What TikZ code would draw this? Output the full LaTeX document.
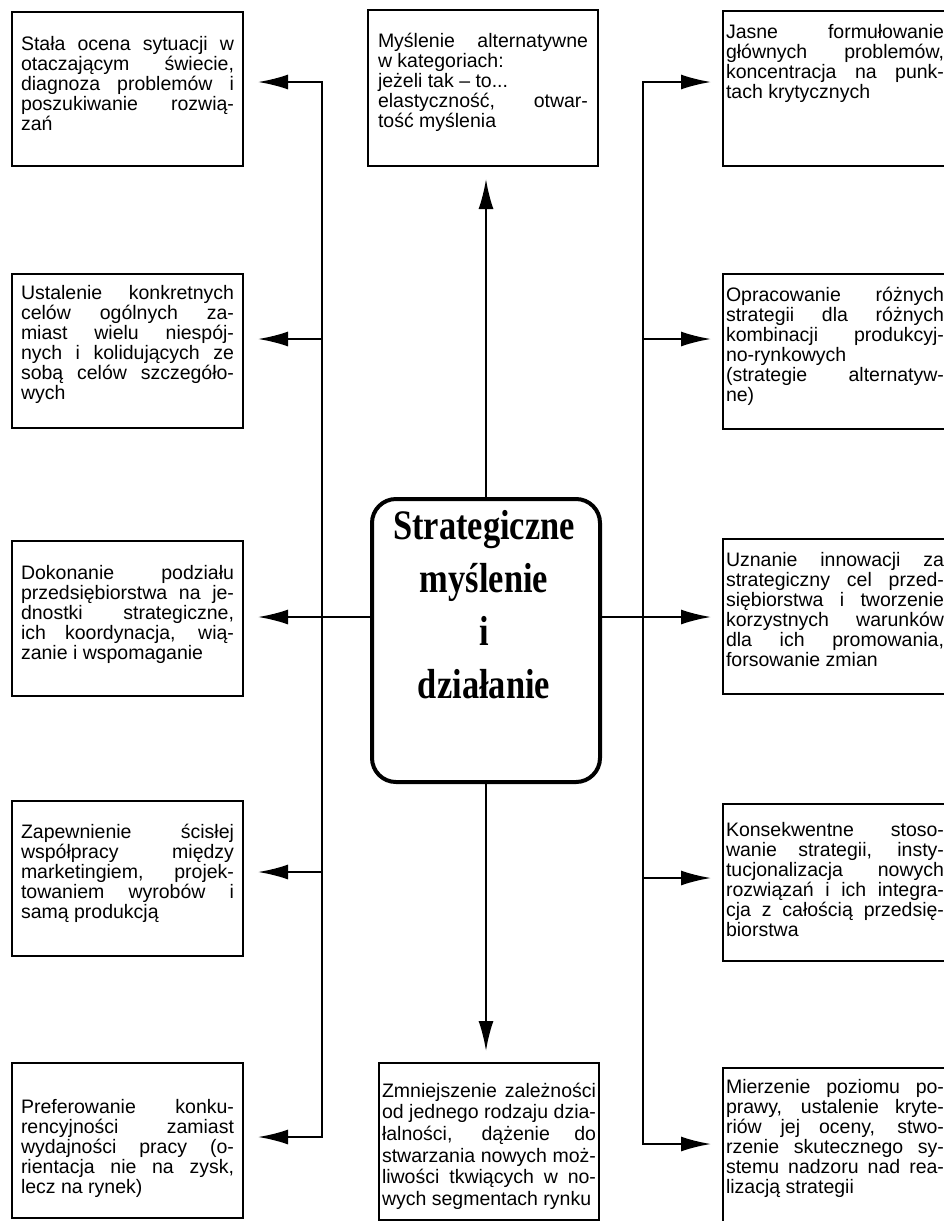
\documentclass[tikz,border=0pt]{standalone}
\usepackage{fontspec}
\setmainfont{Liberation Sans}
\newfontfamily\titlefont[FakeStretch=0.82]{Liberation Serif}
\usetikzlibrary{arrows.meta}

% body text of a box: #1 box height, #2 text width, #3 space above text, #4 text
\newcommand\boxbody[4]{%
  \parbox[c][#1][t]{#2}{%
    \fontsize{19.5bp}{20bp}\selectfont
    \lineskiplimit=-\maxdimen \lineskip=0pt
    \pretolerance=10000 \tolerance=10000 \hbadness=10000
    \hyphenpenalty=10000 \parindent=0pt
    \vspace*{#3}#4}}

\tikzset{
  head/.tip={Latex[length=30bp,width=15bp]},
  txtbox/.style={draw, line width=2bp, inner sep=0pt, anchor=north west},
  link/.style={line width=2.2bp},
  arr/.style={link, -head},
}

\begin{document}
\begin{tikzpicture}[x=1bp, y=-1bp]
\useasboundingbox (0,0) rectangle (944,1221);
\fill[white] (0,0) rectangle (944,1221);

% ---- left column ----
\node[txtbox, minimum width=231bp] (L1) at (11,11) {\boxbody{154bp}{213bp}{24bp}{%
Stała ocena sytuacji w\linebreak otaczającym świecie,\linebreak diagnoza problemów i\linebreak poszukiwanie rozwią-\linebreak zań}};

\node[txtbox, minimum width=231bp] (L2) at (11,273) {\boxbody{154bp}{213bp}{11bp}{%
Ustalenie konkretnych\linebreak celów ogólnych za-\linebreak miast wielu niespój-\linebreak nych i kolidujących ze\linebreak sobą celów szczegóło-\linebreak wych}};

\node[txtbox, minimum width=231bp] (L3) at (11,540) {\boxbody{155bp}{213bp}{24bp}{%
Dokonanie podziału\linebreak przedsiębiorstwa na je-\linebreak dnostki strategiczne,\linebreak ich koordynacja, wią-\linebreak zanie i wspomaganie}};

\node[txtbox, minimum width=231bp] (L4) at (11,800) {\boxbody{155bp}{213bp}{23bp}{%
Zapewnienie ścisłej\linebreak współpracy między\linebreak marketingiem, projek-\linebreak towaniem wyrobów i\linebreak samą produkcją}};

\node[txtbox, minimum width=231bp] (L5) at (11,1062) {\boxbody{155bp}{213bp}{36bp}{%
Preferowanie konku-\linebreak rencyjności zamiast\linebreak wydajności pracy (o-\linebreak rientacja nie na zysk,\linebreak lecz na rynek)}};

% ---- middle column ----
\node[txtbox, minimum width=230bp] (T) at (367,9) {\boxbody{156bp}{210bp}{23bp}{%
Myślenie alternatywne\linebreak w kategoriach:\\ jeżeli tak -- to...\\ elastyczność, otwar-\linebreak tość myślenia}};

\node[txtbox, minimum width=220bp] (B) at (378,1062) {\boxbody{157bp}{214bp}{20bp}{%
\baselineskip=21.6bp
Zmniejszenie zależności\linebreak od jednego rodzaju dzia-\linebreak łalności, dążenie do\linebreak stwarzania nowych moż-\linebreak liwości tkwiących w no-\linebreak wych segmentach rynku}};

\node[draw, line width=4bp, rounded corners=24bp, minimum width=228bp,
      minimum height=283bp, inner sep=0pt, anchor=north west] (C) at (370,497) {};
\node[align=center, font=\titlefont\bfseries\fontsize{42bp}{53bp}\selectfont]
  (title) at (484,605) {Strategiczne\\myślenie\\i\\działanie};

% ---- right column ----
\node[txtbox, minimum width=224bp] (R1) at (722,10) {\boxbody{155bp}{218bp}{13bp}{%
Jasne formułowanie\linebreak głównych problemów,\linebreak koncentracja na punk-\linebreak tach krytycznych}};

\node[txtbox, minimum width=224bp] (R2) at (722,273) {\boxbody{155bp}{218bp}{13bp}{%
Opracowanie różnych\linebreak strategii dla różnych\linebreak kombinacji produkcyj-\linebreak no-rynkowych\\ (strategie alternatyw-\linebreak ne)}};

\node[txtbox, minimum width=224bp] (R3) at (722,538) {\boxbody{155bp}{218bp}{13bp}{%
Uznanie innowacji za\linebreak strategiczny cel przed-\linebreak siębiorstwa i tworzenie\linebreak korzystnych warunków\linebreak dla ich promowania,\linebreak forsowanie zmian}};

\node[txtbox, minimum width=224bp] (R4) at (722,803) {\boxbody{157bp}{218bp}{18bp}{%
Konsekwentne stoso-\linebreak wanie strategii, insty-\linebreak tucjonalizacja nowych\linebreak rozwiązań i ich integra-\linebreak cja z całością przedsię-\linebreak biorstwa}};

\node[txtbox, minimum width=224bp] (R5) at (722,1067) {\boxbody{165bp}{218bp}{11bp}{%
Mierzenie poziomu po-\linebreak prawy, ustalenie kryte-\linebreak riów jej oceny, stwo-\linebreak rzenie skutecznego sy-\linebreak stemu nadzoru nad rea-\linebreak lizacją strategii}};

% ---- branch points on the two trunks ----
\coordinate (lt) at (322,82);
\coordinate (l2) at (322,339);
\coordinate (l3) at (322,617);
\coordinate (l4) at (322,872);
\coordinate (lb) at (322,1137);
\coordinate (rt) at (643,82);
\coordinate (r2) at (643,339);
\coordinate (r3) at (643,617);
\coordinate (r4) at (643,878);
\coordinate (rb) at (643,1144);

% left trunk
\draw[link, head-head, shorten <=14bp, shorten >=14bp]
  (L1.east |- lt) -- (lt) -- (lb) -- (L5.east |- lb);
\draw[arr, shorten >=14bp] (l2) -- (L2.east |- l2);
\draw[arr, shorten >=14bp] (l4) -- (L4.east |- l4);
\draw[arr, shorten >=14bp] (C.west |- l3) -- (L3.east |- l3);

% right trunk
\draw[link, head-head, shorten <=11bp, shorten >=11bp]
  (R1.west |- rt) -- (rt) -- (rb) -- (R5.west |- rb);
\draw[arr, shorten >=11bp] (r2) -- (R2.west |- r2);
\draw[arr, shorten >=11bp] (r4) -- (R4.west |- r4);
\draw[arr, shorten >=11bp] (C.east |- r3) -- (R3.west |- r3);

% vertical links
\draw[arr, shorten >=12bp] (C.north) -- (C.north |- T.south);
\draw[arr, shorten >=11bp] (C.south) -- (C.south |- B.north);
\end{tikzpicture}
\end{document}
